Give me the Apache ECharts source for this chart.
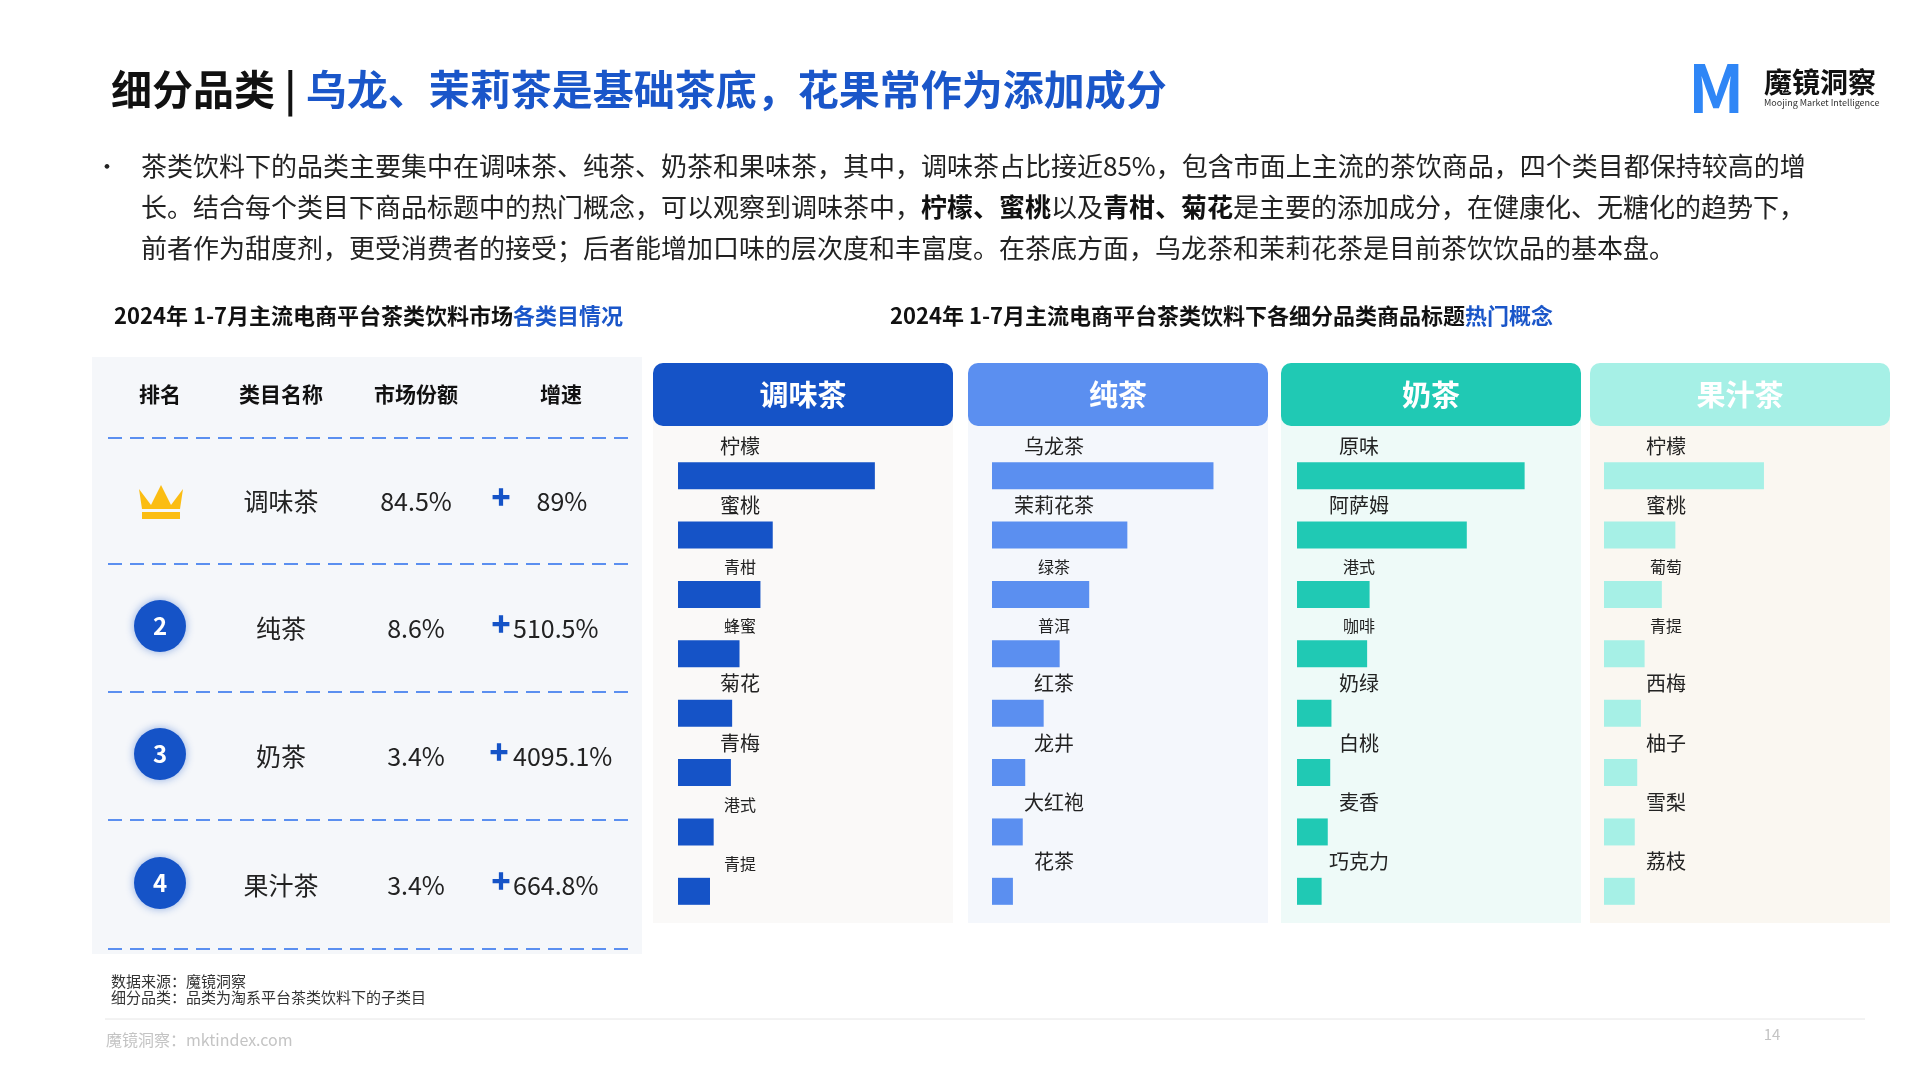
<!DOCTYPE html>
<html><head><meta charset="utf-8">
<script src="https://cdn.jsdelivr.net/npm/echarts@6/dist/echarts.min.js"></script>
<style>html,body{margin:0;padding:0;background:#fff}#c{width:1920px;height:1080px}</style>
</head><body><div id="c"></div>
<script>
// ---- data ----
var tableRanks = ['1', '2', '3', '4'];
var tableNames = ['调味茶', '纯茶', '奶茶', '果汁茶'];
var tableShares = ['84.5%', '8.6%', '3.4%', '3.4%'];
var tableGrowth = ['89%', '510.5%', '4095.1%', '664.8%'];

var panelTitles = ['调味茶', '纯茶', '奶茶', '果汁茶'];
var flavorCats = ['柠檬', '蜜桃', '青柑', '蜂蜜', '菊花', '青梅', '港式', '青提'];
var flavorVals = [160, 77, 67, 50, 44, 43, 29, 26];
var pureCats = ['乌龙茶', '茉莉花茶', '绿茶', '普洱', '红茶', '龙井', '大红袍', '花茶'];
var pureVals = [180, 110, 79, 55, 42, 27, 25, 17];
var milkCats = ['原味', '阿萨姆', '港式', '咖啡', '奶绿', '白桃', '麦香', '巧克力'];
var milkVals = [185, 138, 59, 57, 28, 27, 25, 20];
var juiceCats = ['柠檬', '蜜桃', '葡萄', '青提', '西梅', '柚子', '雪梨', '荔枝'];
var juiceVals = [130, 58, 47, 33, 30, 27, 25, 25];

var smallLabels = {'青柑':1,'蜂蜜':1,'绿茶':1,'普洱':1,'港式':1,'咖啡':1,'葡萄':1,'青提':1};

var F = '"Noto Sans CJK SC","Noto Sans",sans-serif';
var chart = echarts.init(document.getElementById('c'));

var panels = [
  {cats: flavorCats, vals: flavorVals, color: '#1553c7', bg: '#faf9f8', hx: 653, gl: 678},
  {cats: pureCats, vals: pureVals, color: '#5b8ff0', bg: '#f4f7fc', hx: 968, gl: 992},
  {cats: milkCats, vals: milkVals, color: '#20c9b4', bg: '#eefaf8', hx: 1281, gl: 1297},
  {cats: juiceCats, vals: juiceVals, color: '#a6f0e6', bg: '#faf7f1', hx: 1590, gl: 1604}
];

var grids = [], xAxes = [], yAxes = [], series = [];
var graphics = [];

panels.forEach(function (p, i) {
  graphics.push({type: 'rect', shape: {x: p.hx, y: 395, width: 300, height: 528}, style: {fill: p.bg}, z: -1});
  graphics.push({type: 'rect', shape: {x: p.hx, y: 363, width: 300, height: 63, r: 10}, style: {fill: p.color}});
  graphics.push({type: 'text', x: p.hx + 150, y: 395, style: {text: panelTitles[i], fill: '#fff', font: 'bold 29px ' + F, textAlign: 'center', textVerticalAlign: 'middle'}});
  grids.push({left: p.gl, top: 446, width: 283, height: 475});
  xAxes.push({gridIndex: i, type: 'value', min: 0, max: 230, show: false});
  yAxes.push({gridIndex: i, type: 'category', data: p.cats, inverse: true, show: false});
  series.push({
    type: 'bar', xAxisIndex: i, yAxisIndex: i, barWidth: 27,
    itemStyle: {color: p.color},
    data: p.vals.map(function (v, k) {
      return smallLabels[p.cats[k]] ? {value: v, label: {fontSize: 16}} : v;
    }),
    label: {
      show: true, position: [62, -6], align: 'center', verticalAlign: 'bottom',
      formatter: function (d) { return p.cats[d.dataIndex]; },
      color: '#222', fontFamily: F, fontSize: 20
    }
  });
});

// table panel
graphics.push({type: 'rect', shape: {x: 92, y: 357, width: 550, height: 597}, style: {fill: '#f5f7fa'}, z: -1});
var colX = [160, 281, 416, 561];
['排名', '类目名称', '市场份额', '增速'].forEach(function (t, k) {
  graphics.push({type: 'text', x: colX[k], y: 394, style: {text: t, fill: '#111', font: 'bold 21px ' + F, textAlign: 'center', textVerticalAlign: 'middle'}});
});
[438, 564, 692, 820, 949].forEach(function (y) {
  graphics.push({type: 'line', shape: {x1: 108, y1: y, x2: 634, y2: y}, style: {stroke: '#5b8ff0', lineWidth: 2, lineDash: [14, 8]}});
});
var rowY = [501, 628, 756, 885];
var plusX = [501, 501, 499, 501];
tableRanks.forEach(function (r, k) {
  var y = rowY[k];
  if (k === 0) {
    graphics.push({type: 'polygon', shape: {points: [[139, y - 12], [151, y + 4], [161, y - 16], [171, y + 4], [183, y - 12], [180, y + 8], [142, y + 8]]}, style: {fill: '#fbbd13'}});
    graphics.push({type: 'rect', shape: {x: 142, y: y + 11, width: 38, height: 7}, style: {fill: '#fbbd13'}});
  } else {
    graphics.push({type: 'circle', shape: {cx: 160, cy: y - 2, r: 26}, style: {fill: '#1553c7', shadowBlur: 8, shadowColor: 'rgba(21,83,199,0.45)'}});
    graphics.push({type: 'text', x: 160, y: y - 2, style: {text: r, fill: '#fff', font: 'bold 24px ' + F, textAlign: 'center', textVerticalAlign: 'middle'}});
  }
  graphics.push({type: 'text', x: 281, y: y, style: {text: tableNames[k], fill: '#222', font: '25px ' + F, textAlign: 'center', textVerticalAlign: 'middle'}});
  graphics.push({type: 'text', x: 416, y: y, style: {text: tableShares[k], fill: '#222', font: '25px ' + F, textAlign: 'center', textVerticalAlign: 'middle'}});
  graphics.push({type: 'text', x: plusX[k], y: y - 4, style: {text: '✚', fill: '#1553c7', font: 'bold 20px ' + F, textAlign: 'center', textVerticalAlign: 'middle'}});
  graphics.push({type: 'text', x: k === 0 ? 562 : 513, y: y, style: {text: tableGrowth[k], fill: '#222', font: '25px ' + F, textAlign: k === 0 ? 'center' : 'left', textVerticalAlign: 'middle'}});
});

// title
graphics.push({type: 'text', x: 111, y: 89, style: {
  text: '{a|细分品类 | }{b|乌龙、茉莉茶是基础茶底，花果常作为添加成分}',
  textVerticalAlign: 'middle',
  rich: {a: {font: 'bold 41px ' + F, fill: '#111'}, b: {font: 'bold 41px ' + F, fill: '#1a56c9'}}
}});
// logo
graphics.push({type: 'text', x: 1688, y: 88, style: {text: 'M', font: 'bold 66px ' + F, fill: '#2f86f6', textVerticalAlign: 'middle'}});
graphics.push({type: 'text', x: 1764, y: 82, style: {text: '魔镜洞察', font: 'bold 28px ' + F, fill: '#111', textVerticalAlign: 'middle'}});
graphics.push({type: 'text', x: 1764, y: 103, style: {text: 'Moojing Market Intelligence', font: '9px ' + F, fill: '#333', textVerticalAlign: 'middle'}});

// bullet text
graphics.push({type: 'text', x: 96, y: 166, style: {text: '•', font: '22px ' + F, fill: '#222', textVerticalAlign: 'middle'}});
var lines = [
  '茶类饮料下的品类主要集中在调味茶、纯茶、奶茶和果味茶，其中，调味茶占比接近85%，包含市面上主流的茶饮商品，四个类目都保持较高的增',
  '长。结合每个类目下商品标题中的热门概念，可以观察到调味茶中，{b|柠檬、蜜桃}以及{b|青柑、菊花}是主要的添加成分，在健康化、无糖化的趋势下，',
  '前者作为甜度剂，更受消费者的接受；后者能增加口味的层次度和丰富度。在茶底方面，乌龙茶和茉莉花茶是目前茶饮饮品的基本盘。'
];
lines.forEach(function (t, k) {
  graphics.push({type: 'text', x: 141, y: 166 + k * 41, style: {text: t, textVerticalAlign: 'middle', font: '26px ' + F, fill: '#222',
    rich: {b: {font: 'bold 26px ' + F, fill: '#111'}}}});
});
// subtitles
graphics.push({type: 'text', x: 114, y: 316, style: {text: '2024年 1-7月主流电商平台茶类饮料市场{b|各类目情况}', textVerticalAlign: 'middle', font: 'bold 22px ' + F, fill: '#111', rich: {b: {font: 'bold 22px ' + F, fill: '#1a56c9'}}}});
graphics.push({type: 'text', x: 890, y: 316, style: {text: '2024年 1-7月主流电商平台茶类饮料下各细分品类商品标题{b|热门概念}', textVerticalAlign: 'middle', font: 'bold 22px ' + F, fill: '#111', rich: {b: {font: 'bold 22px ' + F, fill: '#1a56c9'}}}});
// footer
graphics.push({type: 'text', x: 111, y: 981, style: {text: '数据来源：魔镜洞察', font: '15px ' + F, fill: '#333', textVerticalAlign: 'middle'}});
graphics.push({type: 'text', x: 111, y: 997, style: {text: '细分品类：品类为淘系平台茶类饮料下的子类目', font: '15px ' + F, fill: '#333', textVerticalAlign: 'middle'}});
graphics.push({type: 'line', shape: {x1: 105, y1: 1019, x2: 1865, y2: 1019}, style: {stroke: '#e6e6e6', lineWidth: 1}});
graphics.push({type: 'text', x: 106, y: 1040, style: {text: '魔镜洞察：mktindex.com', font: '16px ' + F, fill: '#c4c4c4', textVerticalAlign: 'middle'}});
graphics.push({type: 'text', x: 1772, y: 1034, style: {text: '14', font: '15px ' + F, fill: '#c4c4c4', textVerticalAlign: 'middle', textAlign: 'center'}});

chart.setOption({
  animation: false,
  backgroundColor: '#fff',
  grid: grids, xAxis: xAxes, yAxis: yAxes, series: series,
  graphic: graphics
});
</script></body></html>
